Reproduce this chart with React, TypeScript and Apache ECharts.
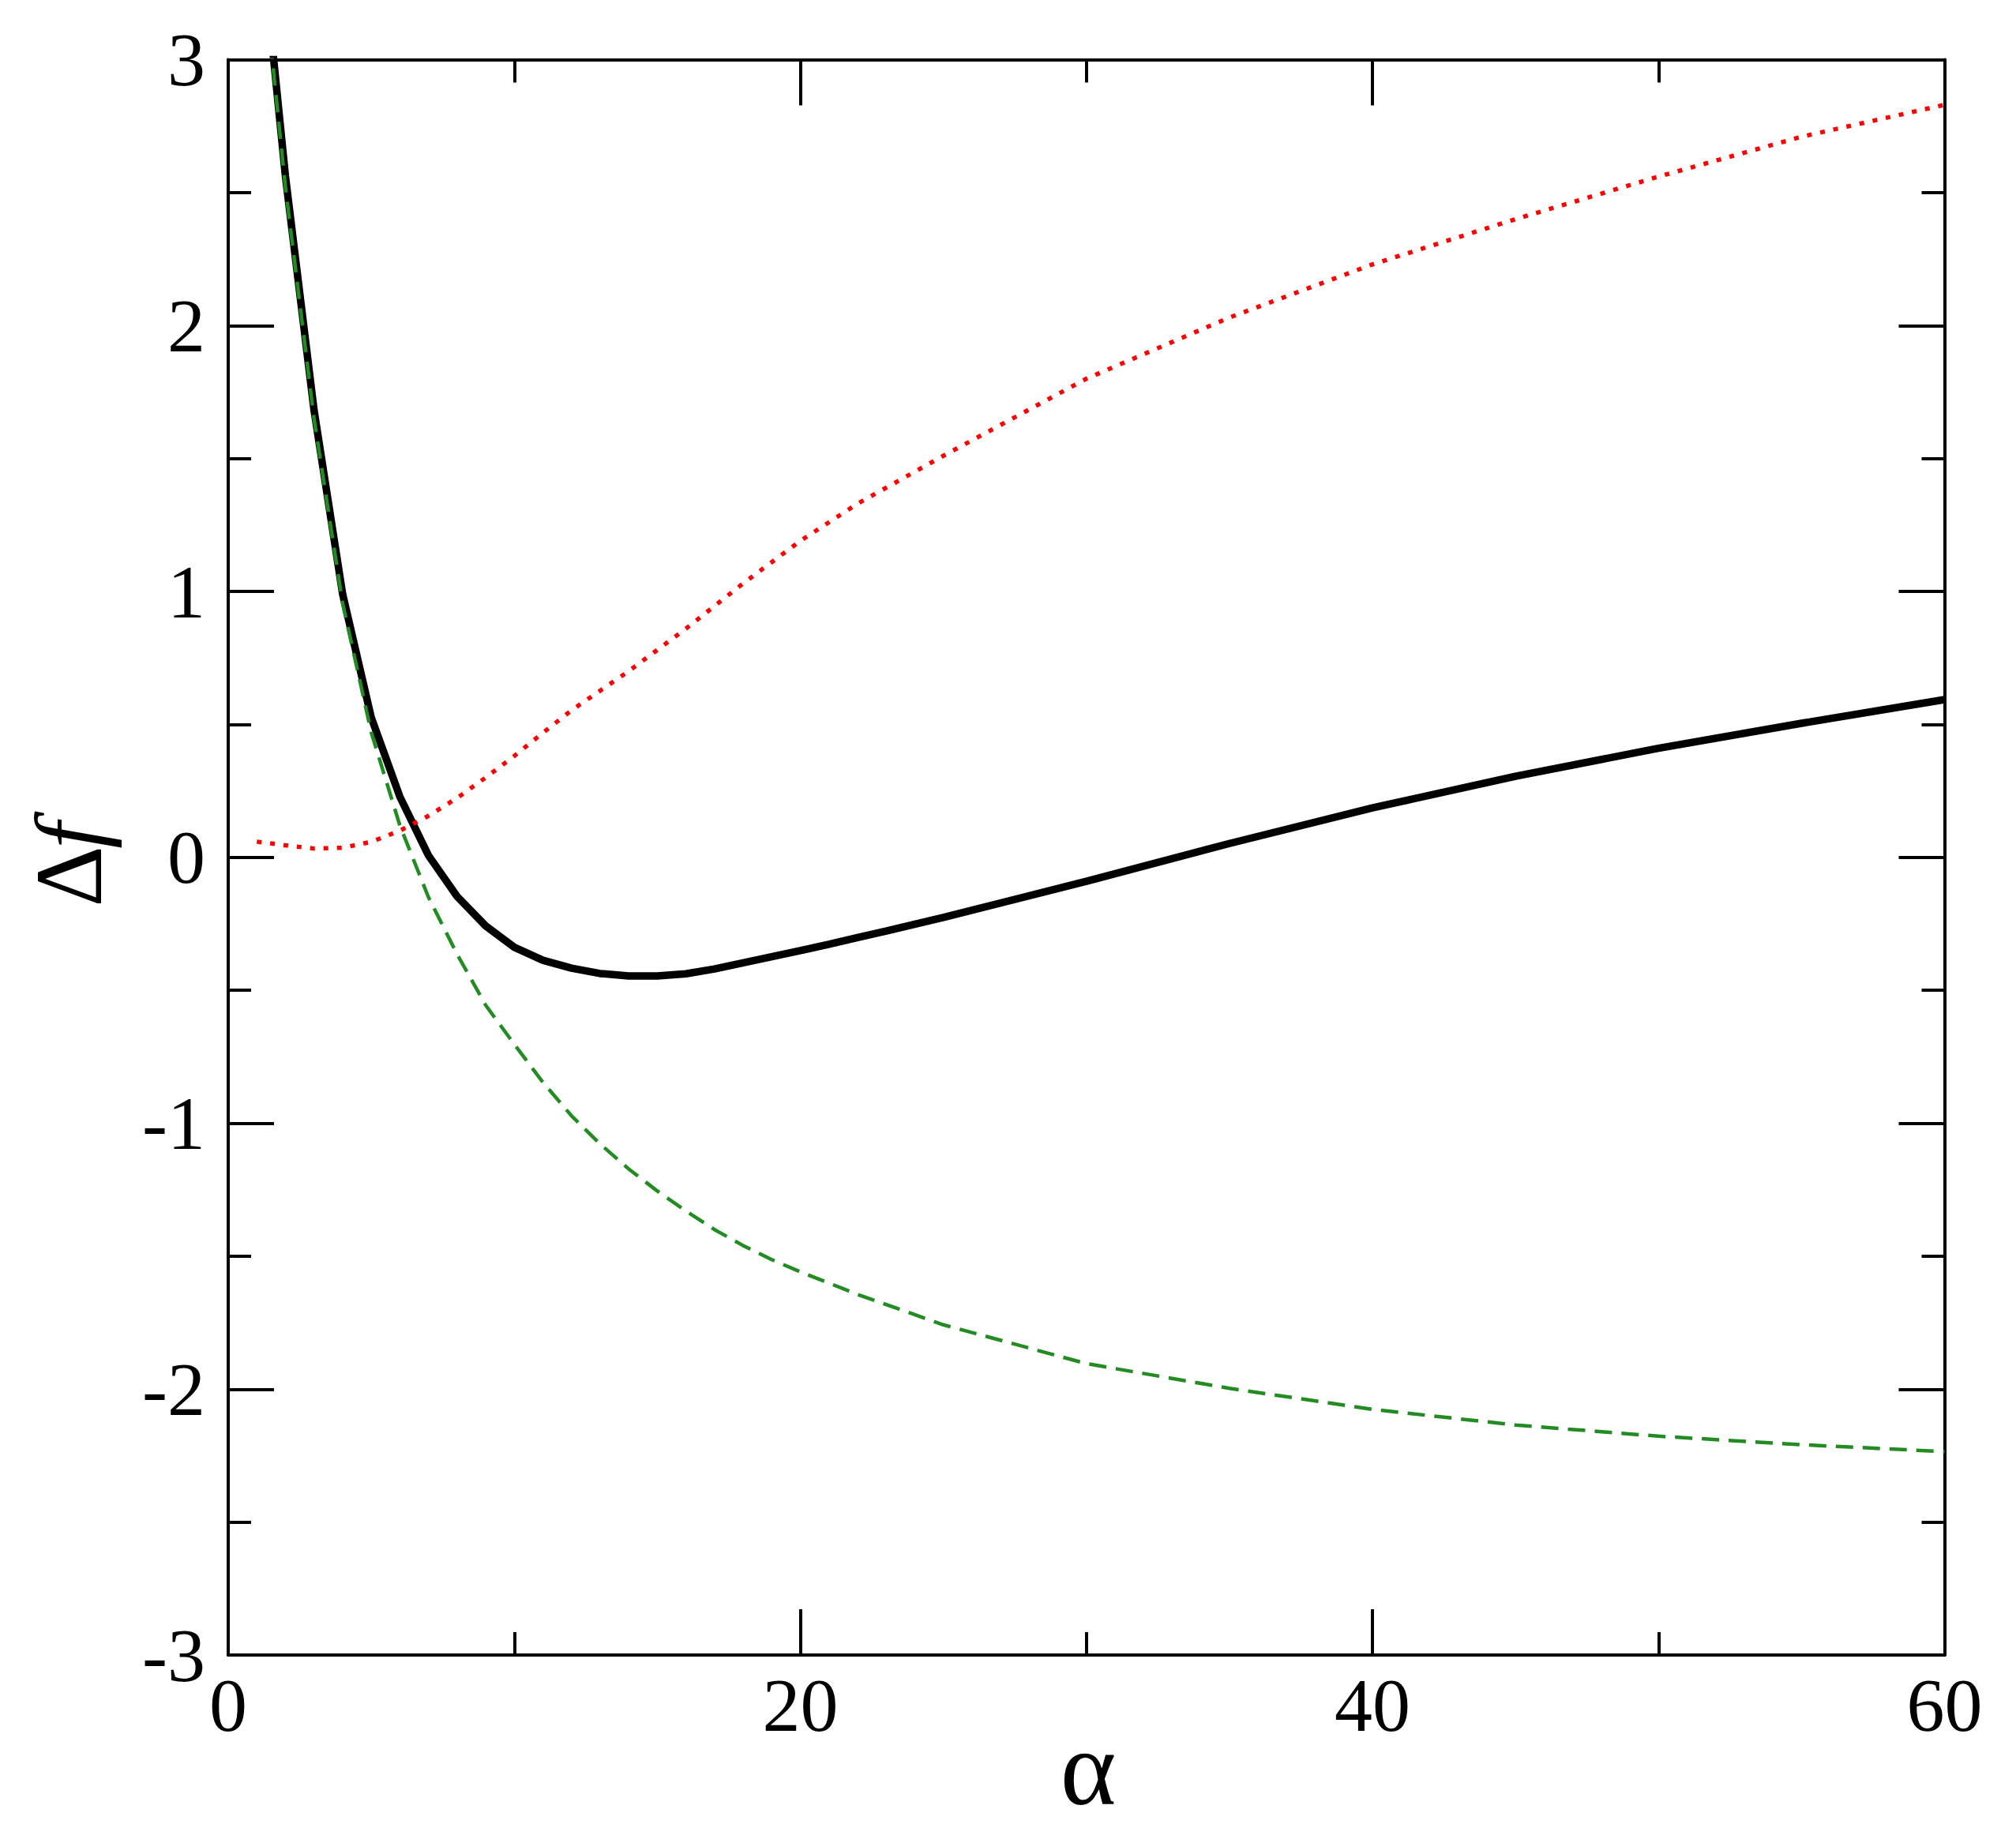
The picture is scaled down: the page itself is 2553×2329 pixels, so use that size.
import React, { useEffect, useRef } from "react";
import * as echarts from "echarts";

// Total free-energy difference (solid black)
const totalAlpha = [1, 2, 3, 4, 5, 6, 7, 8, 9, 10, 11, 12, 13, 14, 15, 16, 17, 18, 19, 20, 21, 22, 23, 25, 30, 35, 40, 45, 50, 55, 60];
const totalDf = [3.63, 2.562, 1.682, 0.99, 0.526, 0.228, 0.007, -0.147, -0.258, -0.338, -0.387, -0.417, -0.437, -0.446, -0.446, -0.438, -0.42, -0.397, -0.374, -0.351, -0.327, -0.302, -0.277, -0.226, -0.09, 0.052, 0.186, 0.305, 0.41, 0.504, 0.593];

// Red dotted contribution
const redAlpha = [1, 2, 3, 4, 5, 6, 7, 8, 9, 10, 11, 12, 14, 16, 18, 20, 22, 25, 30, 35, 40, 45, 50, 55, 60];
const redDf = [0.059, 0.045, 0.033, 0.036, 0.058, 0.1, 0.156, 0.223, 0.3, 0.381, 0.468, 0.553, 0.7, 0.86, 1.03, 1.19, 1.33, 1.51, 1.8, 2.03, 2.23, 2.4, 2.56, 2.71, 2.83];

// Green dashed contribution
const greenAlpha = [1, 2, 3, 4, 5, 6, 7, 8, 9, 10, 11, 12, 13, 14, 15, 16, 17, 18, 19, 20, 21, 22, 23, 25, 30, 35, 40, 45, 50, 55, 60];
const greenDf = [3.57, 2.52, 1.65, 0.955, 0.47, 0.12, -0.15, -0.364, -0.556, -0.703, -0.846, -0.972, -1.078, -1.172, -1.255, -1.33, -1.4, -1.46, -1.513, -1.559, -1.601, -1.644, -1.682, -1.758, -1.904, -1.997, -2.076, -2.135, -2.177, -2.209, -2.235];

const xTitle = "α";
const yTitleSymbol = "Δ";
const yTitleVar = "f";

const FONT = "Liberation Serif";

function pairs(xs: number[], ys: number[]) {
  return xs.map((x, i) => [x, ys[i]]);
}

export default function App() {
  const ref = useRef<HTMLDivElement>(null);
  useEffect(() => {
    if (!ref.current) return;
    const chart = echarts.init(ref.current, null, { renderer: "svg" });
    const tickStyle = { color: "#000", width: 4 };
    const baseX = {
      type: "value",
      min: 0,
      max: 60,
      interval: 20,
      axisLine: { show: true, onZero: false, lineStyle: { color: "#000", width: 4 } },
      axisTick: { show: true, inside: true, length: 58, lineStyle: tickStyle },
      minorTick: { show: true, splitNumber: 2, length: 29, lineStyle: tickStyle },
      splitLine: { show: false },
      minorSplitLine: { show: false },
    };
    const baseY = {
      type: "value",
      min: -3,
      max: 3,
      interval: 1,
      axisLine: { show: true, onZero: false, lineStyle: { color: "#000", width: 4 } },
      axisTick: { show: true, inside: true, length: 58, lineStyle: tickStyle },
      minorTick: { show: true, splitNumber: 2, length: 29, lineStyle: tickStyle },
      splitLine: { show: false },
      minorSplitLine: { show: false },
    };
    chart.setOption({
      animation: false,
      backgroundColor: "#fff",
      grid: {
        left: 289,
        top: 75.5,
        width: 2173.5,
        height: 2020.5,
        containLabel: false,
        outerBoundsMode: "none",
      },
      xAxis: [
        {
          ...baseX,
          position: "bottom",
          axisLabel: {
            show: true,
            margin: 15,
            fontFamily: FONT,
            fontSize: 96,
            color: "#000",
            showMinLabel: true,
            showMaxLabel: true,
          },
        },
        { ...baseX, position: "top", axisLabel: { show: false } },
      ],
      yAxis: [
        {
          ...baseY,
          position: "left",
          axisLabel: {
            show: true,
            margin: 29,
            fontFamily: FONT,
            fontSize: 96,
            color: "#000",
            showMinLabel: true,
            showMaxLabel: true,
          },
        },
        { ...baseY, position: "right", axisLabel: { show: false } },
      ],
      graphic: [
        {
          type: "text",
          x: 1378,
          y: 2239,
          style: {
            text: xTitle,
            fontFamily: FONT,
            fontSize: 135,
            fill: "#000",
            textAlign: "center",
            textVerticalAlign: "middle",
          },
        },
        {
          type: "text",
          x: 87.5,
          y: 1110,
          rotation: Math.PI / 2,
          style: {
            text: yTitleSymbol,
            fontFamily: FONT,
            fontSize: 120,
            fill: "#000",
            textAlign: "center",
            textVerticalAlign: "middle",
          },
        },
        {
          type: "text",
          x: 87.5,
          y: 1058,
          rotation: Math.PI / 2,
          style: {
            text: yTitleVar,
            fontFamily: FONT,
            fontSize: 120,
            fontStyle: "italic",
            fill: "#000",
            textAlign: "center",
            textVerticalAlign: "middle",
          },
        },
      ],
      series: [
        {
          type: "line",
          xAxisIndex: 0,
          yAxisIndex: 0,
          data: pairs(totalAlpha, totalDf),
          showSymbol: false,
          symbol: "none",
          clip: true,
          lineStyle: { color: "#000", width: 9.5, type: "solid" },
          z: 2,
        },
        {
          type: "line",
          xAxisIndex: 0,
          yAxisIndex: 0,
          data: pairs(redAlpha, redDf),
          showSymbol: false,
          symbol: "none",
          clip: true,
          lineStyle: { color: "#ff0000", width: 5.5, type: [6, 11], cap: "butt" },
          z: 3,
        },
        {
          type: "line",
          xAxisIndex: 0,
          yAxisIndex: 0,
          data: pairs(greenAlpha, greenDf),
          showSymbol: false,
          symbol: "none",
          clip: true,
          lineStyle: { color: "#228b22", width: 4.5, type: [22, 12], cap: "butt" },
          z: 4,
        },
      ],
    });
    return () => chart.dispose();
  }, []);
  return (
    <div
      ref={ref}
      style={{ position: "absolute", left: 0, top: 0, width: 2553, height: 2329, background: "#fff" }}
    />
  );
}
